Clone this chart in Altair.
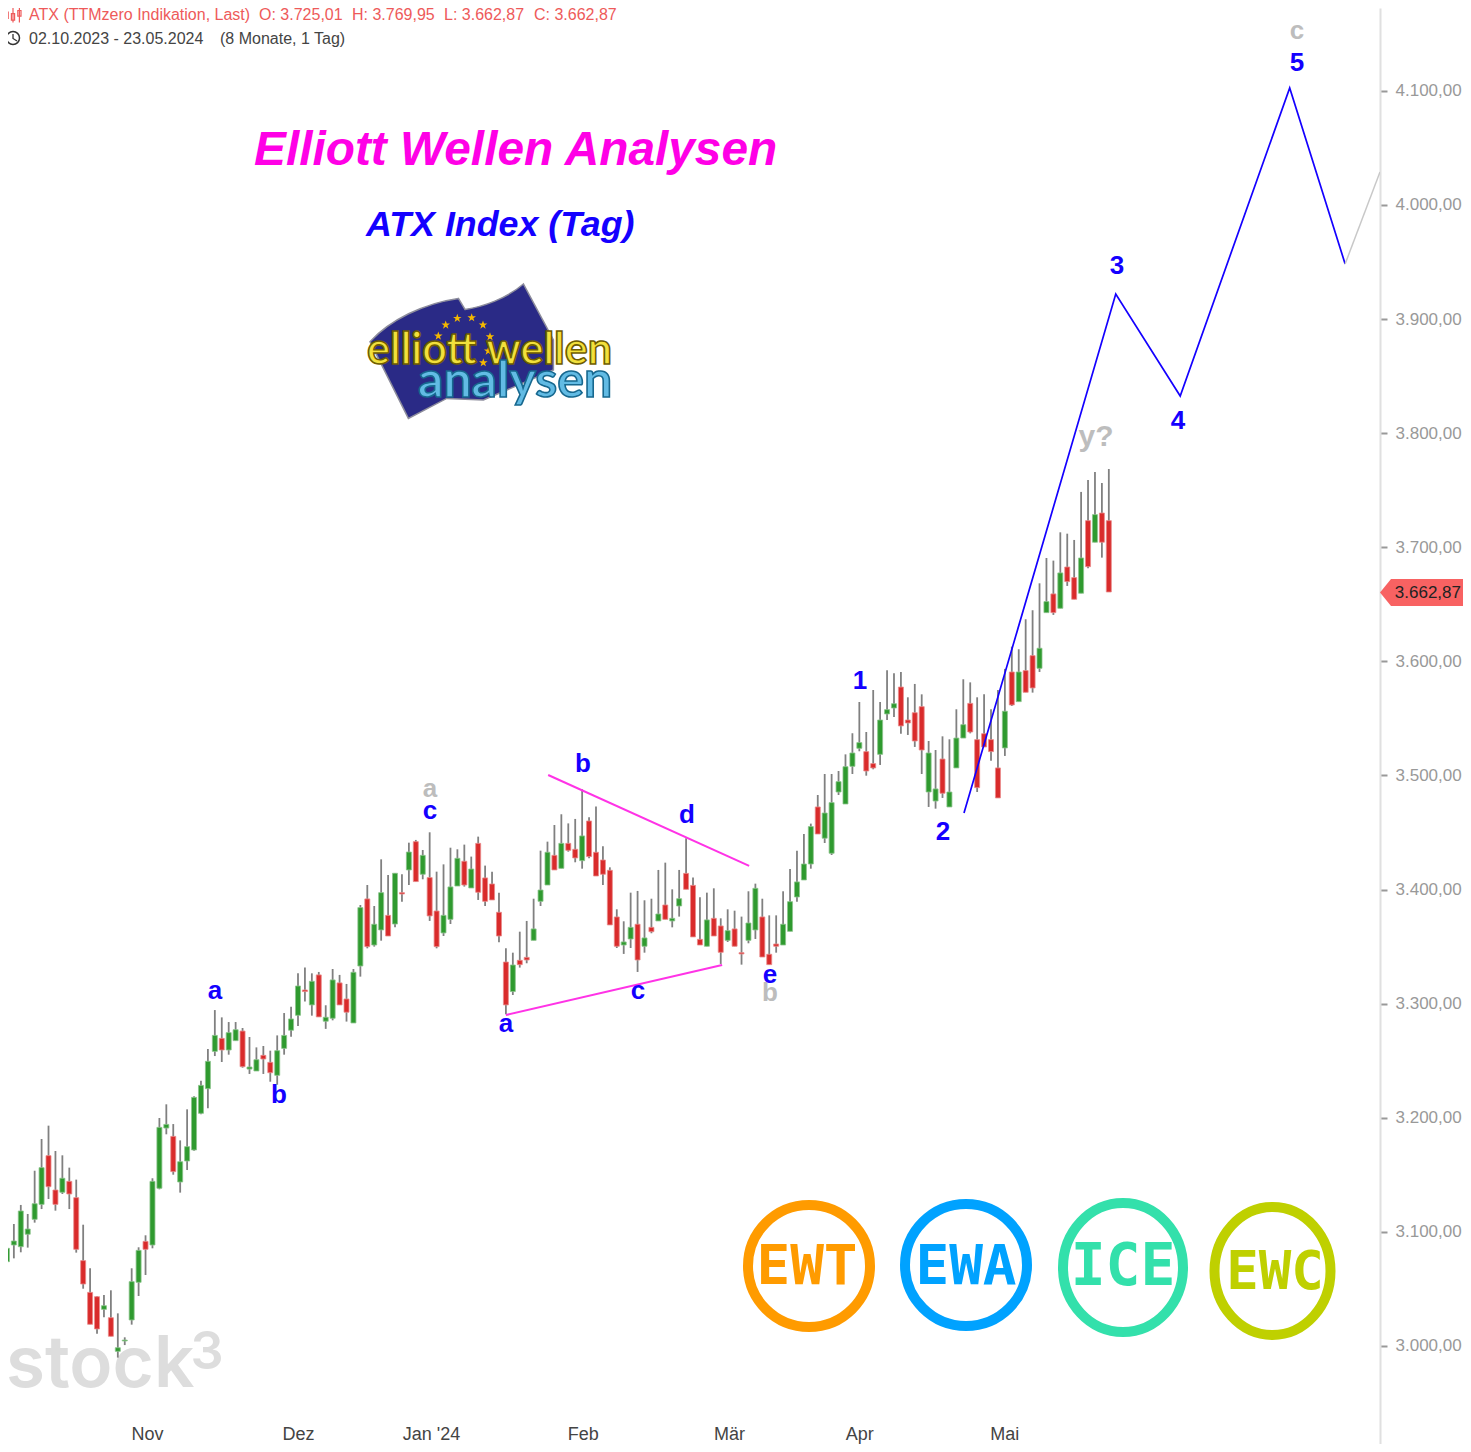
import altair as alt
import pandas as pd

# ---------- candle values (index of trading day, prices) ----------
highs = [3130.9,3097.3,3106.9,3123.6,3115.7,3153.6,3181.4,3193.1,3170.9,3167.1,
3156.3,3145.8,3106.3,3068.1,3043.5,3044.7,3048.8,3028.6,3007.6,3068.1,
3086.5,3097,3147,3199.8,3211.8,3194.5,3180.2,3207.4,3218.8,3232.5,
3260.3,3294.4,3288,3283.9,3283.9,3278.7,3270.8,3261.7,3262.9,3258.8,
3272.2,3291.8,3297.4,3326.6,3331.6,3326.6,3327.8,3298.6,3330.4,3325.2,
3317.3,3330.4,3386.5,3404,3385.6,3426.5,3412.8,3414.3,3413.4,3441.1,
3443.5,3434.7,3450.2,3415.7,3422.1,3436.7,3435.3,3439.4,3428.9,3446.4,
3421,3415.7,3397.3,3348.5,3344.7,3363.1,3372.5,3392,3434.1,3442,
3456.6,3466,3458,3461.9,3487.9,3463.3,3472.7,3437.9,3419.5,3382.7,
3372.2,3397.3,3398.8,3390.6,3392,3417.2,3423.6,3400.2,3417.2,3444.9,
3410.5,3393.2,3397.3,3401.1,3374.8,3382.7,3381.5,3376.3,3398.5,3405.2,
3392,3377.4,3377.4,3398.5,3418.1,3434.1,3448.7,3457.8,3482.9,3501.3,
3501.3,3503.9,3518.5,3537,3564.4,3538.1,3574.9,3564.4,3592.1,3589.5,
3590.7,3568.5,3580.2,3571.1,3530.2,3522.3,3534.3,3531.7,3558,3584.3,
3581.6,3568.5,3571.1,3558,3574.9,3593.4,3612.9,3610.6,3636.9,3644.8,
3668.4,3690.6,3688.3,3713.1,3711.9,3706.4,3748.5,3759,3766,3756.3,3768.6]

body_top = [3110.4,3085.6,3092,3118.3,3102.5,3124.7,3156.3,3166.8,3136.7,3147,
3144.3,3130,3074.8,3047,3043.2,3035.3,3024.8,2998.5,3005.2,3056.4,
3083.8,3091.7,3144.3,3191.6,3194.2,3183.7,3161.5,3174.7,3217.9,3228.4,
3249.5,3272.2,3269.6,3274.6,3277.2,3276,3244.5,3250.9,3254.7,3248.6,
3258.8,3272.2,3286.6,3315.5,3312,3319.6,3325.2,3288.1,3320.8,3318.2,
3304.1,3327.5,3384.2,3391.8,3369.6,3397.3,3377.4,3414.3,3397.3,3432.9,
3442,3430,3410.5,3381.2,3377.4,3402.3,3427.4,3424.8,3418,3440.5,
3410.2,3404.9,3380.1,3336.5,3333.9,3338,3340.6,3365.5,3399.6,3432.7,
3430,3440.5,3440.5,3435.3,3447,3460.1,3432.7,3425.9,3416.9,3376,
3354.1,3366.9,3369.6,3357.6,3366.9,3378.6,3386.5,3374.8,3392,3414.2,
3403.7,3356.4,3373.4,3374.8,3368.1,3364,3365.5,3344.7,3370.7,3401.1,
3376,3343.3,3352.3,3369.6,3389.4,3406.7,3422.4,3455.2,3472.4,3467.1,
3476.2,3494.6,3507.7,3519.7,3528.8,3520.9,3510.4,3548.6,3557.7,3562.9,
3577.5,3548.6,3555,3560.3,3519.7,3488.2,3514.4,3485.5,3532.8,3544.5,
3563.2,3531.4,3536.6,3531.4,3506.6,3556.3,3590.7,3590.7,3591.9,3605,
3611.5,3652.4,3659.1,3677.5,3682.7,3673.4,3690.6,3723.3,3728.6,3730,3723.3]

body_bot = [3080.6,3073.9,3088.5,3087,3097.9,3111,3124.1,3139.6,3124.1,3134.7,
3133.2,3084.7,3054.3,3019,3014.9,3032.1,3008.5,2995.3,3004.4,3022.8,
3055.8,3084.7,3088.5,3138.2,3191,3152.8,3143.7,3162.1,3171.8,3203.9,
3225.5,3258.2,3259.4,3259.4,3267.6,3244.8,3242.7,3241,3251.5,3239.5,
3237.2,3260.8,3276.7,3289.8,3310.6,3298.9,3288.4,3284.6,3287.2,3298.9,
3292.5,3283.1,3333,3350,3351.4,3364.6,3359.3,3369.8,3396.1,3417.2,
3407,3413.4,3376.9,3350,3362,3373.9,3403.1,3404,3401.4,3397.6,
3389.7,3390.9,3359.3,3298.9,3310.6,3334.2,3338.3,3355.5,3389.7,3404,
3417.2,3418.6,3434.4,3427.7,3425.3,3428.9,3411.9,3413.4,3369,3350.3,
3351.4,3356.7,3338.3,3350.3,3363.1,3372.5,3373.9,3372.5,3385.6,3400.2,
3358.5,3351.4,3350.3,3359.3,3345,3355.5,3350.3,3343.6,3355.5,3364.6,
3340.9,3334.2,3350.3,3351.4,3363.4,3393.5,3408.4,3422.4,3448.7,3445,
3431.8,3485.5,3475,3508,3523.8,3503.9,3506.6,3518.5,3553.9,3559.1,
3543.4,3546,3530.2,3522.3,3485.5,3477.6,3484.4,3472.4,3506.6,3532.8,
3538.1,3489.3,3525,3520.9,3480.3,3524.1,3561.8,3564.7,3572.9,3576.7,
3593.9,3642.7,3642.7,3646.5,3669.9,3654.4,3659.7,3683,3704.4,3704.4,3660.8]

lows = [3076.8,3069,3076.8,3082.1,3086.2,3108.1,3120,3128.8,3118.6,3133.2,
3120,3081.8,3050.2,3019,3010.8,3025.1,3008.5,2989.8,3000.8,3018.7,
3043.8,3062.2,3085.6,3137.3,3185.5,3150.1,3134.4,3154.2,3171.2,3203,
3208.3,3254.1,3248.9,3255.3,3267.6,3243.9,3238.4,3241,3238.4,3231.6,
3229,3255.3,3271.1,3280.5,3301.8,3289.5,3288.4,3277.9,3285.4,3298.9,
3284.3,3283.1,3323.7,3348.5,3350,3355.2,3359.3,3366.9,3389.4,3404,
3407,3409,3372.5,3348.5,3359.3,3369.8,3403.1,3402.6,3401.4,3390.9,
3385.6,3390.9,3353.8,3290.7,3307.6,3331.6,3335.4,3355.5,3385.6,3404,
3417.2,3418.6,3433.2,3423.9,3418.3,3427.4,3411.9,3404,3369,3348.8,
3343.6,3348.8,3327.8,3344.7,3361.7,3372.5,3373.9,3366.9,3376.3,3400.2,
3358.5,3351.4,3350.3,3359.3,3334.8,3354.1,3350.3,3334.2,3352.9,3356.7,
3340.9,3334.2,3344.7,3351.4,3363.4,3389.4,3408.4,3418.3,3448.7,3440.8,
3430.3,3482.9,3475,3501.3,3521.2,3499.8,3505.4,3509.2,3548.6,3551.2,
3536.6,3535.5,3525,3501.3,3472.4,3470.9,3480.3,3472.4,3506.6,3532.8,
3536.9,3485.5,3525,3513,3480.3,3517.1,3560.9,3564.7,3572.9,3572.6,
3590.7,3642.7,3640.7,3646.5,3666.1,3654.4,3659.7,3681.6,3704.4,3690.9,3660.8]

direction = ("rggggggrrg" "rrrrrgrggg" "grgggrgggg" "ggrggrggrr" "ggggrgrggr"
             "rggrggrgrg" "rgrrgggrgr" "rrrrgrrggg" "rgrrgrrrrr" "ggrgrgrggr"
             "rrgrrgrrgg" "rrrgggggrg" "gggggrrggg" "rrrrggrggg" "rrrrrgrgrr"
             "ggrgrrgrgrr")

# ---------- wave lines ----------
blue_idx = [139.1, 161.0, 170.3, 186.1, 194.1]
blue_val = [3467.1, 3922.0, 3832.6, 4102.5, 3948.3]
gray_idx = [194.1, 199.13]
gray_val = [3948.3, 4028.9]
pink_top_idx = [79.1, 108.1]
pink_top_val = [3500.4, 3420.7]
pink_low_idx = [73.0, 104.2]
pink_low_val = [3290.0, 3333.9]

# ---------- wave labels ----------
blue_labels = ["a", "b", "c", "b", "d", "a", "c", "e", "1", "2", "3", "4", "5"]
blue_lab_idx = [31.02, 40.26, 62.05, 84.13, 99.13, 73.02, 92.06, 111.11, 124.1, 136.08, 161.18, 169.99, 187.16]
blue_lab_val = [3311.1, 3220.0, 3468.9, 3510.1, 3465.4, 3282.2, 3311.1, 3325.1, 3582.8, 3450.5, 3946.5, 3810.7, 4124.4]
gray_labels = ["a", "b", "c", "y?"]
gray_lab_idx = [62.05, 111.11, 187.16, 158.15]
gray_lab_val = [3488.2, 3309.4, 4152.5, 3796.7]

y_ticks = [3000, 3100, 3200, 3300, 3400, 3500, 3600, 3700, 3800, 3900, 4000, 4100]
month_idx = [21.2, 43.0, 62.2, 84.1, 105.2, 124.0, 144.9]
month_names = ["Nov", "Dez", "Jan '24", "Feb", "Mär", "Apr", "Mai"]

# ---------- colours / fonts ----------
BLUE = "#1400ff"
GRAY = "#bdbdbd"
PINK = "#ff33e6"
RED = "#d92b2b"
GREEN = "#2f9a2f"
SANS = "Liberation Sans"
MONO = "DejaVu Sans Mono"

xs = alt.Scale(domain=[1.154, 199.13], nice=False, zero=False, padding=0)
ys = alt.Scale(domain=[2914.1, 4172.6], nice=False, zero=False)

label_expr = "replace(replace(replace(format(datum.value,',.2f'),',','X'),'.',','),'X','.')"
month_expr = "[" + ",".join('"' + m + '"' for m in month_names) + "][indexof(" + str(month_idx) + ",datum.value)]"
X_AXIS = alt.Axis(orient="bottom", values=month_idx, labelExpr=month_expr, offset=-19, domain=False, ticks=False,
                  grid=False, labelPadding=0, labelFontSize=18, labelFont=SANS, labelColor="#444444",
                  labelOverlap=False, labelBound=False, labelFlush=False, title=None)
Y_AXIS = alt.Axis(orient="right", values=y_ticks, labelExpr=label_expr, grid=False,
                  domainColor="#e0e0e0", domainWidth=2, tickColor="#999999", tickSize=7, tickWidth=2,
                  labelPadding=8, labelFontSize=17, labelFont=SANS, labelColor="#999999", title=None)
X = alt.X("i:Q", scale=xs, axis=X_AXIS)
Y = alt.Y("v:Q", scale=ys, axis=Y_AXIS)

one = pd.DataFrame({"k": [0]})


def label(text, px, py, **kw):
    kw.setdefault("font", SANS)
    kw.setdefault("align", "left")
    kw.setdefault("baseline", "middle")
    return alt.Chart(one).mark_text(text=text, **kw).encode(x=alt.value(px - 8), y=alt.value(py - 8))


def shape(path, px, py, half, **kw):
    kw.setdefault("opacity", 1)
    return alt.Chart(one).mark_point(shape=path, size=(2 * half) ** 2, **kw).encode(
        x=alt.value(px - 8), y=alt.value(py - 8))


def ellipse(rx, ry, half):
    a, b, k = rx / half, ry / half, 0.5523
    return (f"M{-a:.4f},0 C{-a:.4f},{-k*b:.4f} {-k*a:.4f},{-b:.4f} 0,{-b:.4f} "
            f"C{k*a:.4f},{-b:.4f} {a:.4f},{-k*b:.4f} {a:.4f},0 "
            f"C{a:.4f},{k*b:.4f} {k*a:.4f},{b:.4f} 0,{b:.4f} "
            f"C{-k*a:.4f},{b:.4f} {-a:.4f},{k*b:.4f} {-a:.4f},0 Z")


candles = pd.DataFrame({
    "i": list(range(len(highs))), "h": highs, "l": lows,
    "t": body_top, "b": body_bot, "d": list(direction),
})

wicks = alt.Chart(candles).mark_rule(color="#808080", strokeWidth=1.8, clip=True).encode(
    x=X,
    y=alt.Y("h:Q", scale=ys, axis=Y_AXIS),
    y2="l:Q",
)

bodies = alt.Chart(candles).mark_bar(size=5, strokeWidth=0.8, clip=True).encode(
    x=X,
    y=alt.Y("t:Q", scale=ys, axis=Y_AXIS),
    y2="b:Q",
    color=alt.Color("d:N", scale=alt.Scale(domain=["r", "g"], range=[RED, GREEN]), legend=None),
    stroke=alt.Stroke("d:N", scale=alt.Scale(domain=["r", "g"], range=["#ea8a8a", "#8cc48c"]), legend=None),
)


def line(idx, val, color, width):
    df = pd.DataFrame({"i": idx, "v": val, "o": list(range(len(idx)))})
    return alt.Chart(df).mark_line(color=color, strokeWidth=width, clip=True).encode(x=X, y=Y, order="o:Q")


def wave_text(names, idx, val, color, size):
    df = pd.DataFrame({"i": idx, "v": val, "s": names})
    return alt.Chart(df).mark_text(font=SANS, fontWeight="bold", fontSize=size, color=color).encode(
        x=X, y=Y, text="s:N")


# ---------- watermark ----------
watermark = [
    label("stock", 6, 1387, fontSize=71, fontWeight=600, font="Inter", color="#dddddd", baseline="alphabetic"),
    label("3", 207, 1369, fontSize=52, fontWeight=600, font="Inter", color="#dddddd", align="center",
          baseline="alphabetic"),
]

# ---------- header ----------
HDR = "#ee5a5a"
TXT = "#444444"
header = [
    label("ATX (TTMzero Indikation, Last)", 29, 14.5, fontSize=16, color=HDR),
    label("O: 3.725,01", 259, 14.5, fontSize=16, color=HDR),
    label("H: 3.769,95", 352, 14.5, fontSize=16, color=HDR),
    label("L: 3.662,87", 444, 14.5, fontSize=16, color=HDR),
    label("C: 3.662,87", 534, 14.5, fontSize=16, color=HDR),
    label("02.10.2023 - 23.05.2024", 29, 38.5, fontSize=16, color=TXT),
    label("(8 Monate, 1 Tag)", 220, 38.5, fontSize=16, color=TXT),
    shape(ellipse(6.5, 6.5, 10), 13, 38, 10, filled=False, stroke="#333333", strokeWidth=1.5),
    shape("M0,-0.4 L0,0.05 L0.4,0.3", 13, 38, 10, filled=False, stroke="#333333", strokeWidth=1.3),
    shape("M-0.8,-1 L-0.8,1 M-1,-0.3 L-0.6,-0.3 L-0.6,0.5 L-1,0.5 Z M0,-1 L0,1 M-0.2,-0.1 L0.2,-0.1 L0.2,0.7 L-0.2,0.7 Z "
          "M0.8,-1 L0.8,1 M0.6,-0.5 L1,-0.5 L1,0.2 L0.6,0.2 Z", 13, 14.5, 8,
          filled=False, stroke=HDR, strokeWidth=1.2),
]

# ---------- headings ----------
headings = [
    label("Elliott Wellen Analysen", 254, 150.5, fontSize=47.8, fontWeight="bold", fontStyle="italic", color="#ff00e6"),
    label("ATX Index (Tag)", 366, 224.5, fontSize=35.8, fontWeight="bold", fontStyle="italic", color=BLUE),
]

# ---------- logo ----------
def n(x, y):
    return f"{(x-335)/300:.3f},{(y-245)/300:.3f}"


flag = (f"M{n(60,215)} C{n(120,150)} {n(220,100)} {n(325,85)} L{n(345,118)} "
        f"C{n(400,110)} {n(470,85)} {n(520,42)} L{n(610,210)} L{n(610,300)} L{n(400,390)} "
        f"L{n(290,385)} L{n(175,445)} Z")
star = ("M0,-1 L0.24,-0.31 L0.95,-0.31 L0.38,0.12 L0.59,0.81 L0,0.4 L-0.59,0.81 L-0.38,0.12 L-0.95,-0.31 L-0.24,-0.31 Z")
star_px = [(445.7, 325), (457.3, 318.3), (471.7, 317.7), (483, 325), (490, 336.7), (438.3, 336), (488.3, 351), (483.3, 362.7)]
logo = [shape(flag, 461.7, 351.7, 100, filled=True, fill="#2a2a86", stroke="#8d8d9c", strokeWidth=1.5)]
logo += [shape(star, a, b, 4.5, filled=True, fill="#f5b800", strokeWidth=0) for a, b in star_px]
logo += [
    label("elliott wellen", 367, 364, fontSize=43, fontWeight="bold", font="Lato", color="#f2e03c",
          stroke="#6f5d00", strokeWidth=1.6, baseline="alphabetic"),
    label("analysen", 418, 397, fontSize=50, fontWeight="bold", font="Lato", color="#62bbe4",
          stroke="#17688f", strokeWidth=1.6, baseline="alphabetic"),
]

# ---------- badges ----------
rings = [
    ("EWT", 809, 1266, 61, 61, "#ff9b00", 807, 1267, 56),
    ("EWA", 966, 1265, 61, 61, "#00a2ff", 966, 1267, 56),
    ("ICE", 1123, 1267.5, 60, 64.5, "#33e0ab", 1123, 1268, 58),
    ("EWC", 1272.5, 1271, 58, 64, "#bfd000", 1275, 1273, 54),
]
badges = []
for name, cx, cy, rx, ry, col, tx, ty, fs in rings:
    badges.append(shape(ellipse(rx, ry, 70), cx, cy, 70, filled=False, stroke=col, strokeWidth=10))
    badges.append(label(name, tx, ty, fontSize=fs, fontWeight="bold", font=MONO, color=col, align="center"))

# ---------- price tag ----------
tag_path = "M-1,0 L-0.735,-0.325 L1,-0.325 L1,0.325 L-0.735,0.325 Z"
tag = [
    shape(tag_path, 1421.5, 592.5, 41.5, filled=True, fill="#f86262", strokeWidth=0),
    label("3.662,87", 1461, 592.5, fontSize=17, color="#222222", align="right"),
]

parts = (watermark + [wicks, bodies,
                      line(pink_top_idx, pink_top_val, PINK, 2),
                      line(pink_low_idx, pink_low_val, PINK, 2),
                      line(blue_idx, blue_val, BLUE, 1.7),
                      line(gray_idx, gray_val, "#c8c8c8", 1.5),
                      wave_text(gray_labels[:3], gray_lab_idx[:3], gray_lab_val[:3], GRAY, 26),
                      wave_text(gray_labels[3:], gray_lab_idx[3:], gray_lab_val[3:], GRAY, 30),
                      wave_text(blue_labels, blue_lab_idx, blue_lab_val, BLUE, 26)]
         + header + headings + logo + badges + tag)

chart = alt.layer(*parts).resolve_scale(color="independent", stroke="independent").properties(
    width=1372, height=1436,
    padding={"left": 0, "top": 0, "right": 83, "bottom": 0},
    autosize=alt.AutoSizeParams(type="none"),
    background="white",
).configure_view(strokeWidth=0)

chart.save("out.html", embed_options={"renderer": "svg", "actions": False})
